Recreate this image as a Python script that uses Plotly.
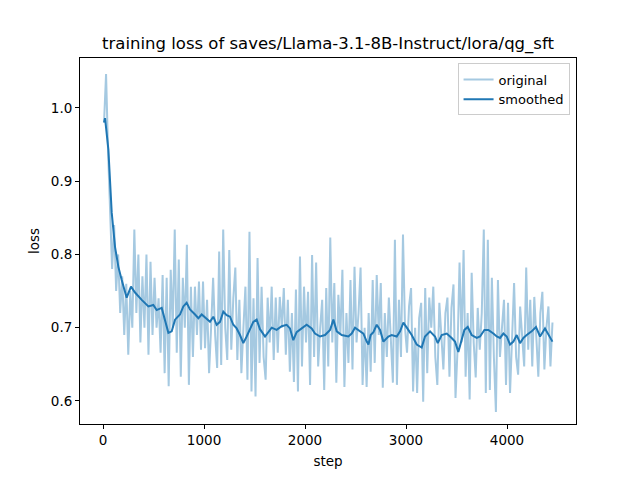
import plotly.graph_objects as go

# ---- data ----
step_start = 10
step_every = 20
original_loss = [
    # 10 - 490
    0.98, 1.046, 0.94, 0.86, 0.78, 0.84, 0.75, 0.80, 0.72, 0.77, 0.69, 0.76, 0.663,
    0.75, 0.70, 0.834, 0.72, 0.80, 0.68, 0.77, 0.70, 0.80, 0.663, 0.79, 0.69,
    # 510 - 1050
    0.768, 0.70, 0.74, 0.666, 0.772, 0.638, 0.768, 0.62, 0.779, 0.70, 0.834, 0.666,
    0.793, 0.633, 0.768, 0.70, 0.813, 0.622, 0.756, 0.66, 0.756, 0.69, 0.763, 0.67,
    0.763, 0.672, 0.738, 0.638,
    # 1070 - 1590
    0.70, 0.768, 0.69, 0.645, 0.804, 0.649, 0.834, 0.70, 0.656, 0.806, 0.670, 0.74,
    0.782, 0.656, 0.738, 0.638, 0.70, 0.756, 0.629, 0.831, 0.613, 0.74, 0.606, 0.795,
    0.652, 0.756, 0.66,
    # 1610 - 2130
    0.629, 0.741, 0.68, 0.756, 0.656, 0.741, 0.666, 0.742, 0.70, 0.754, 0.663, 0.738,
    0.640, 0.72, 0.626, 0.752, 0.613, 0.797, 0.647, 0.756, 0.68, 0.749, 0.622, 0.799,
    0.66, 0.789, 0.647,
    # 2150 - 2670
    0.70, 0.738, 0.615, 0.754, 0.647, 0.823, 0.68, 0.761, 0.625, 0.745, 0.69, 0.779,
    0.619, 0.72, 0.652, 0.765, 0.643, 0.783, 0.68, 0.72, 0.782, 0.622, 0.70, 0.619,
    0.72, 0.640, 0.765,
    # 2690 - 3230
    0.652, 0.772, 0.69, 0.761, 0.618, 0.72, 0.660, 0.741, 0.68, 0.625, 0.82, 0.622,
    0.738, 0.660, 0.827, 0.70, 0.666, 0.729, 0.754, 0.613, 0.70, 0.611, 0.713, 0.734,
    0.599, 0.754, 0.638, 0.741,
    # 3250 - 3770
    0.70, 0.756, 0.66, 0.622, 0.734, 0.68, 0.643, 0.72, 0.741, 0.633, 0.727, 0.759,
    0.604, 0.67, 0.789, 0.68, 0.806, 0.633, 0.72, 0.602, 0.775, 0.68, 0.632, 0.727,
    0.67, 0.72, 0.834,
    # 3790 - 4450
    0.611, 0.82, 0.615, 0.768, 0.66, 0.585, 0.765, 0.66, 0.70, 0.738, 0.622, 0.734,
    0.611, 0.70, 0.761, 0.66, 0.636, 0.729, 0.68, 0.647, 0.782, 0.67, 0.738, 0.647,
    0.742, 0.68, 0.633, 0.72, 0.749, 0.643, 0.70, 0.729, 0.647, 0.707,
]
original_steps = [step_start + i * step_every for i in range(len(original_loss))]

smoothed_steps = [
    10, 20, 53, 86, 119, 152, 185, 234, 277, 317, 383, 449, 498, 531, 581, 614, 647,
    680, 713, 762, 795, 828, 861, 911, 944, 977, 1010, 1059, 1092, 1125, 1158, 1191,
    1224, 1257, 1290, 1323, 1356, 1389, 1422, 1455, 1488, 1521, 1554, 1604, 1637,
    1670, 1719, 1769, 1818, 1851, 1884, 1917, 1967, 2016, 2066, 2099, 2149, 2198,
    2248, 2281, 2314, 2363, 2429, 2462, 2495, 2528, 2578, 2611, 2628, 2650, 2677,
    2710, 2743, 2776, 2825, 2858, 2908, 2941, 2974, 3023, 3056, 3106, 3155, 3188,
    3238, 3287, 3314, 3353, 3403, 3452, 3485, 3518, 3551, 3578, 3611, 3650, 3700,
    3733, 3776, 3815, 3865, 3898, 3931, 3964, 3997, 4030, 4063, 4096, 4129, 4162,
    4195, 4244, 4287, 4327, 4376, 4426, 4450,
]
smoothed_loss = [
    0.98, 0.986, 0.943, 0.857, 0.81, 0.783, 0.765, 0.741, 0.756, 0.748, 0.738, 0.729,
    0.731, 0.724, 0.727, 0.711, 0.693, 0.695, 0.711, 0.718, 0.729, 0.734, 0.725,
    0.718, 0.713, 0.718, 0.714, 0.708, 0.715, 0.704, 0.708, 0.722, 0.717, 0.715,
    0.704, 0.699, 0.690, 0.679, 0.688, 0.699, 0.708, 0.711, 0.698, 0.688, 0.694,
    0.700, 0.697, 0.702, 0.704, 0.699, 0.683, 0.694, 0.699, 0.704, 0.699, 0.692,
    0.688, 0.690, 0.697, 0.711, 0.695, 0.690, 0.688, 0.692, 0.700, 0.697, 0.692,
    0.681, 0.677, 0.690, 0.694, 0.704, 0.697, 0.681, 0.688, 0.690, 0.688, 0.695,
    0.707, 0.697, 0.690, 0.677, 0.673, 0.688, 0.695, 0.688, 0.679, 0.690, 0.692,
    0.686, 0.681, 0.667, 0.684, 0.697, 0.701, 0.690, 0.686, 0.688, 0.697, 0.697,
    0.692, 0.688, 0.686, 0.692, 0.688, 0.677, 0.681, 0.690, 0.679, 0.686, 0.690,
    0.695, 0.701, 0.688, 0.699, 0.686, 0.681,
]

x_ticks = [0, 1000, 2000, 3000, 4000]
y_ticks = [0.6, 0.7, 0.8, 0.9, 1.0]
y_tick_labels = ["0.6", "0.7", "0.8", "0.9", "1.0"]

title_text = "training loss of saves/Llama-3.1-8B-Instruct/lora/qg_sft"

FONT = "DejaVu Sans, Liberation Sans, sans-serif"

fig = go.Figure()
fig.add_trace(go.Scatter(
    x=original_steps, y=original_loss, mode="lines", name="original",
    line=dict(color="#a5c9e1", width=2),
))
fig.add_trace(go.Scatter(
    x=smoothed_steps, y=smoothed_loss, mode="lines", name="smoothed",
    line=dict(color="#1f77b4", width=2),
))

axis_common = dict(
    showline=True, linecolor="black", linewidth=1, mirror=True,
    ticks="outside", ticklen=4, tickwidth=1, tickcolor="black",
    showgrid=False, zeroline=False, automargin=False,
    tickfont=dict(family=FONT, size=13.5, color="black"),
)

fig.update_layout(
    width=640, height=480,
    paper_bgcolor="white", plot_bgcolor="white",
    margin=dict(l=80, r=64, t=58, b=56, autoexpand=False),
    font=dict(family=FONT, color="black"),
    title=dict(text=title_text, x=0.5, xref="paper", xanchor="center",
               y=1 - 43 / 480, yref="container", yanchor="middle",
               font=dict(family=FONT, size=16.5, color="black")),
    xaxis=dict(range=[-228, 4683], tickvals=x_ticks,
               title=dict(text="step", standoff=9,
                          font=dict(family=FONT, size=13.5, color="black")),
               **axis_common),
    yaxis=dict(range=[0.5686, 1.068], tickvals=y_ticks, ticktext=y_tick_labels,
               title=dict(text="loss", standoff=8,
                          font=dict(family=FONT, size=13.5, color="black")),
               **axis_common),
    legend=dict(x=0.987, y=0.985, xanchor="right", yanchor="top",
                bgcolor="rgba(255,255,255,0.8)", bordercolor="#cccccc", borderwidth=1,
                font=dict(family=FONT, size=13, color="black"),
                tracegroupgap=0),
    showlegend=True,
)

fig.write_html("out.html", config={"displayModeBar": False},
               post_script="document.body.style.margin='0';document.body.style.padding='0';")
